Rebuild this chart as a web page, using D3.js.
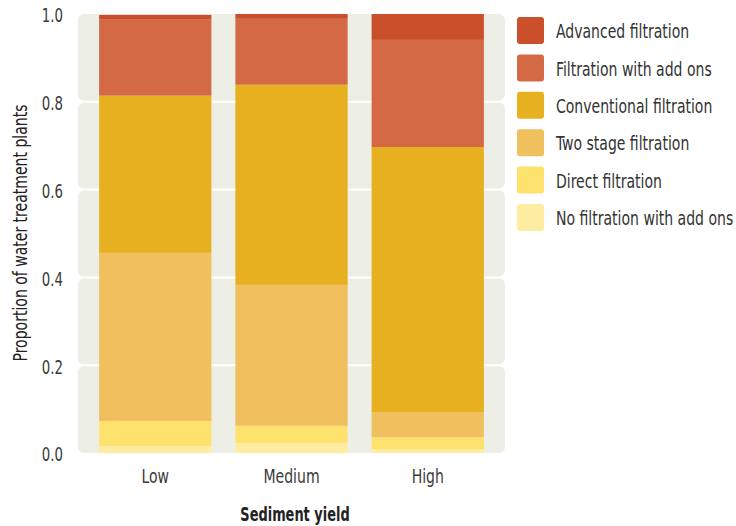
<!DOCTYPE html>
<html>
<head>
<meta charset="utf-8">
<script src="https://cdn.jsdelivr.net/npm/d3@7"></script>
<style>
  body { margin: 0; background: #fff; }
  svg { display: block; }
  text { font-family: "DejaVu Sans Condensed", "Liberation Sans Narrow", "Roboto", sans-serif; }
</style>
</head>
<body>
<svg id="chart" width="736" height="526"></svg>
<script>
const categories = ["Low", "Medium", "High"];
const seriesNames = [
  "No filtration with add ons",
  "Direct filtration",
  "Two stage filtration",
  "Conventional filtration",
  "Filtration with add ons",
  "Advanced filtration"
];
const noFiltration   = [0.016, 0.023, 0.009];
const direct         = [0.057, 0.039, 0.027];
const twoStage       = [0.383, 0.321, 0.057];
const conventional   = [0.358, 0.456, 0.604];
const filtrationAdd  = [0.173, 0.150, 0.244];
const advanced       = [0.011, 0.011, 0.059];
const yTicks = [0, 0.2, 0.4, 0.6, 0.8, 1.0];
const colors = ["#FEECA0", "#FEE26E", "#EFC05D", "#E6B020", "#D36A45", "#CB4F2A"];

const seriesValues = [noFiltration, direct, twoStage, conventional, filtrationAdd, advanced];
const table = categories.map((c, i) => {
  const row = { cat: c };
  seriesNames.forEach((s, j) => row[s] = seriesValues[j][i]);
  return row;
});

const svg = d3.select("#chart");
const x = d3.scaleBand().domain(categories).range([78, 505]).paddingInner(0.176).paddingOuter(0.155);
const y = d3.scaleLinear().domain([0, 1]).range([453, 14]);

const K = 0.78;

// panel bands
const bandG = svg.append("g");
for (let i = 0; i < yTicks.length - 1; i++) {
  const top = y(yTicks[i + 1]);
  const bot = y(yTicks[i]);
  bandG.append("rect")
    .attr("x", 78).attr("width", 427)
    .attr("y", top + (i === yTicks.length - 2 ? 0 : 1))
    .attr("height", bot - top - (i === yTicks.length - 2 ? 1 : 2) + (i === 0 ? 1 : 0))
    .attr("rx", 6).attr("ry", 6)
    .attr("fill", "#EDEEE6");
}

const stack = d3.stack().keys(seriesNames);
const stacked = stack(table);
svg.append("g").selectAll("g").data(stacked).join("g")
  .attr("fill", (d, i) => colors[i])
  .selectAll("rect").data(d => d).join("rect")
  .attr("x", d => x(d.data.cat))
  .attr("width", x.bandwidth())
  .attr("y", d => y(d[1]))
  .attr("height", d => y(d[0]) - y(d[1]));

// y axis
const yAxis = svg.append("g").attr("transform", "translate(63,0)")
  .call(d3.axisLeft(y).tickValues(yTicks).tickFormat(d3.format(".1f")).tickSize(0).tickPadding(0));
yAxis.select(".domain").remove();
yAxis.selectAll("text").attr("font-size", 19).attr("fill", "#3a3a3a").attr("dy", "0.42em")
  .attr("x", 0).attr("transform", `scale(${K},1)`)
  .style("font-family", '"DejaVu Sans Condensed", sans-serif');

// x axis
const xAxis = svg.append("g").attr("transform", "translate(0,463)")
  .call(d3.axisBottom(x).tickSize(0).tickPadding(0));
xAxis.select(".domain").remove();
xAxis.selectAll("text").attr("font-size", 20).attr("fill", "#3a3a3a").attr("y", 20).attr("dy", 0)
  .attr("transform", `scale(${K},1)`)
  .style("font-family", '"DejaVu Sans Condensed", sans-serif');

// axis titles
svg.append("text").attr("transform", `translate(295,521) scale(0.72,1)`).attr("text-anchor", "middle")
  .attr("font-size", 20).attr("font-weight", "bold").attr("fill", "#222")
  .text("Sediment yield");
svg.append("text").attr("transform", `translate(27,233) rotate(-90) scale(${K},1)`).attr("text-anchor", "middle")
  .attr("font-size", 20).attr("fill", "#222")
  .text("Proportion of water treatment plants");

// legend
const legendOrder = seriesNames.map((s, i) => ({ name: s, color: colors[i] })).reverse();
const lg = svg.append("g").selectAll("g").data(legendOrder).join("g")
  .attr("transform", (d, i) => `translate(517,${17 + i * 37.4})`);
lg.append("rect").attr("width", 27).attr("height", 27).attr("rx", 3).attr("fill", d => d.color);
lg.append("text").attr("transform", `translate(39,14) scale(${K},1)`).attr("dy", "0.36em")
  .attr("font-size", 20).attr("fill", "#333").text(d => d.name);
</script>
</body>
</html>
